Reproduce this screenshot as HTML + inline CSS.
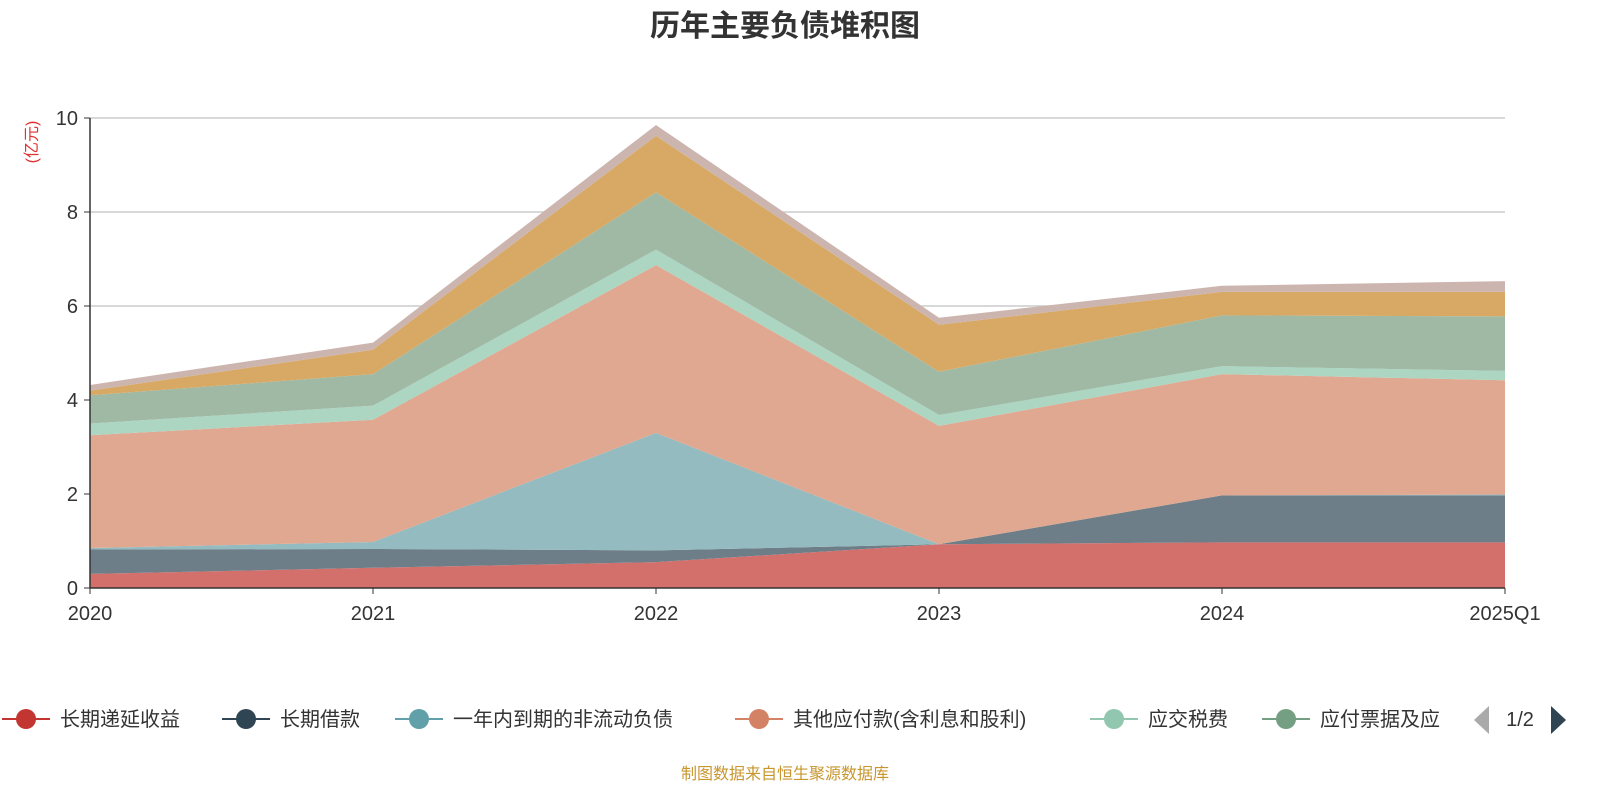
<!DOCTYPE html>
<html><head><meta charset="utf-8"><style>
body{margin:0;background:#fff;font-family:"Liberation Sans","Noto Sans CJK SC",sans-serif;}
svg text{font-family:"Liberation Sans","Noto Sans CJK SC",sans-serif;}
</style></head><body>
<svg id="chart" width="1600" height="800">
<text x="785" y="36" text-anchor="middle" font-size="30" font-weight="bold" fill="#333">历年主要负债堆积图</text>
<text x="37" y="142" font-size="16" fill="#e03030" transform="rotate(-90 37 142)" text-anchor="middle">(亿元)</text>
<g id="grid"></g><g id="areas"></g><g id="axes"></g><g id="legend"></g>
<text x="785" y="779" text-anchor="middle" font-size="16" fill="#c8962e">制图数据来自恒生聚源数据库</text>
</svg>
<script>
const categories=["2020","2021","2022","2023","2024","2025Q1"];
const yTicks=[0,2,4,6,8,10];
const seriesNames=["长期递延收益","长期借款","一年内到期的非流动负债","其他应付款(含利息和股利)","应交税费","应付票据及应付账款","其他负债A","其他负债B"];
const s0=[0.30,0.43,0.55,0.93,0.97,0.97];
const s1=[0.52,0.40,0.25,0.00,1.00,1.00];
const s2=[0.03,0.15,2.50,0.00,0.00,0.02];
const s3=[2.40,2.60,3.57,2.52,2.58,2.43];
const s4=[0.25,0.30,0.33,0.23,0.17,0.20];
const s5=[0.60,0.67,1.22,0.92,1.08,1.16];
const s6=[0.10,0.52,1.20,1.00,0.50,0.52];
const s7=[0.12,0.15,0.23,0.15,0.13,0.23];
const series=[s0,s1,s2,s3,s4,s5,s6,s7];
const fills=["#d4706c","#6e7e88","#93bbc0","#e0a891","#acd5c2","#9fb9a5","#d7a964","#ccb5af"];
const legendColors=["#c23531","#2f4554","#61a0a8","#d48265","#91c7ae","#749f83"];
const NS="http://www.w3.org/2000/svg";
const X0=90,X1=1505,Y0=588,Y1=118,YMAX=10;
const xs=i=>X0+(X1-X0)*i/(categories.length-1);
const ys=v=>Y0-(Y0-Y1)*v/YMAX;
function mk(tag,attrs,parent){const e=document.createElementNS(NS,tag);for(const k in attrs)e.setAttribute(k,attrs[k]);parent.appendChild(e);return e;}
const grid=document.getElementById('grid'),areas=document.getElementById('areas'),axes=document.getElementById('axes'),legend=document.getElementById('legend');
yTicks.forEach(t=>{
 if(t>0){const l=mk('line',{x1:X0,x2:X1,y1:ys(t),y2:ys(t),stroke:'#ccc','stroke-width':1.5},grid);
 
 }
 const tx=mk('text',{x:X0-12,y:ys(t)+7,'text-anchor':'end','font-size':20,fill:'#333'},axes);tx.textContent=t;
 
 
 const tk=mk('line',{x1:X0-6,x2:X0,y1:ys(t),y2:ys(t),stroke:'#333'},axes);
 
 
});
let base=categories.map(()=>0);
series.forEach((s,k)=>{
 const top=base.map((b,i)=>b+s[i]);
 let d='M'+top.map((v,i)=>xs(i)+','+ys(v)).join(' L');
 for(let i=categories.length-1;i>=0;i--)d+=' L'+xs(i)+','+ys(base[i]);
 const p=mk('path',{d:d+'Z',fill:fills[k]},areas);
 
 
 base=top;
});
const ax=mk('line',{x1:X0,x2:X1,y1:Y0,y2:Y0,stroke:'#333','stroke-width':1.5},axes);


const ay=mk('line',{x1:X0,x2:X0,y1:Y0,y2:Y1,stroke:'#333','stroke-width':1.5},axes);


categories.forEach((c,i)=>{
 const t=mk('text',{x:xs(i),y:620,'text-anchor':'middle','font-size':20,fill:'#333'},axes);t.textContent=c;
 
 
 const tk=mk('line',{x1:xs(i),x2:xs(i),y1:Y0,y2:Y0+6,stroke:'#333'},axes);
 
 
});
const lx=[2,222,395,735,1090,1262];
const lnames=["长期递延收益","长期借款","一年内到期的非流动负债","其他应付款(含利息和股利)","应交税费","应付票据及应"];
lnames.forEach((n,i)=>{
 const g=mk('g',{},legend);
 
 
 mk('line',{x1:lx[i],x2:lx[i]+48,y1:719,y2:719,stroke:legendColors[i],'stroke-width':2},g);
 mk('circle',{cx:lx[i]+24,cy:719,r:10,fill:legendColors[i]},g);
 const t=mk('text',{x:lx[i]+58,y:726,'font-size':20,fill:'#333'},g);t.textContent=n;
});
const pv=mk('path',{d:'M1489,706 L1489,734 L1474,720Z',fill:'#aaa'},legend);


const pt=mk('text',{x:1520,y:726,'text-anchor':'middle','font-size':20,fill:'#333'},legend);pt.textContent='1/2';


const nx=mk('path',{d:'M1551,706 L1551,734 L1566,720Z',fill:'#2f4554'},legend);


</script>
</body></html>
